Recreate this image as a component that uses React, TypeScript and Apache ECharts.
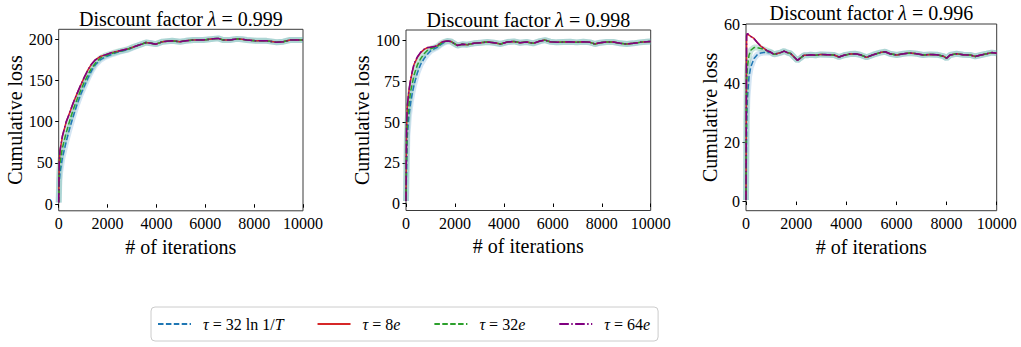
import React, { useEffect, useRef } from "react";
import * as echarts from "echarts";

// ---------- data ----------
const SERIES_NAMES = ["τ=32ln1/T", "τ=8e", "τ=32e", "τ=64e"];

// Panel 1 (λ = 0.999)
const P1_TITLE = "0.999";
const P1_Y_TICKS = [0, 50, 100, 150, 200];
const P1_X_HEAD = [0, 25, 55, 150, 300, 450, 600, 750, 900, 1050, 1200, 1350, 1500, 1700, 1900, 2200, 2500, 2800, 3000];
const P1_BLUE_HEAD = [2, 28, 38, 56, 75, 92, 107, 121, 133, 143, 153, 162, 169, 175, 178.5, 182, 185, 187, 189.5];
const P1_RED_HEAD = [2, 52, 65, 82, 99, 111, 123, 134, 144, 154, 163, 170, 175, 179, 181, 184, 186, 188, 190];
const P1_GREEN_HEAD = [2, 40, 50, 68, 86, 101, 115, 127, 138, 148, 157, 165, 171, 177, 180, 183, 185.5, 187.5, 190];
const P1_PURPLE_HEAD = [2, 53, 65.5, 82.5, 99.5, 111, 123.5, 134, 144.5, 154, 163, 170, 175, 179, 181, 184, 186, 188, 190];
const P1_X_TAIL = [3200, 3400, 3575, 3780, 3980, 4250, 4650, 4965, 5200, 5510, 5920, 6330, 6530, 6740, 7010, 7290, 7490, 7700, 8100, 8510, 8920, 9190, 9470, 9740, 10000];
const P1_TAIL = [192, 194, 196, 195, 194, 197, 198, 197, 198, 199, 199, 200.4, 201, 199, 199, 200.4, 200, 199, 198, 198, 196.3, 197, 199, 199, 199];

// Panel 2 (λ = 0.998)
const P2_TITLE = "0.998";
const P2_Y_TICKS = [0, 25, 50, 75, 100];
const P2_X_HEAD = [0, 25, 55, 120, 190, 260, 330, 460, 600, 740, 870, 1000, 1150, 1280, 1420, 1550];
const P2_BLUE_HEAD = [1.5, 22, 41.6, 54, 62, 68, 73, 80, 85.5, 89, 91.6, 93.7, 95, 96, 97.6, 98.8];
const P2_RED_HEAD = [1.5, 47, 60, 69, 76, 81, 85.5, 89.6, 92.7, 94.7, 95.7, 96, 96.3, 97, 98.8, 99.6];
const P2_GREEN_HEAD = [1.5, 35, 50, 61, 69, 74, 79, 85, 89, 92, 94, 95, 95.8, 96.5, 98.2, 99.3];
const P2_PURPLE_HEAD = [1.5, 48, 60.5, 69.5, 76.5, 81.5, 86, 90, 93, 94.8, 95.8, 96, 96.4, 97, 98.8, 99.6];
const P2_X_TAIL = [1690, 1830, 1960, 2100, 2300, 2500, 2780, 3050, 3320, 3600, 3870, 4140, 4410, 4660, 4930, 5200, 5480, 5680, 5890, 6160, 6430, 6700, 6980, 7250, 7520, 7720, 7930, 8200, 8470, 8750, 9020, 9290, 9560, 9840, 10000];
const P2_TAIL = [99.8, 99.6, 98.4, 97.1, 97.8, 97.6, 98.4, 98.8, 99.2, 98.8, 98, 99.2, 99.6, 98.8, 99.2, 98.4, 99.8, 100.4, 99.4, 99, 99.2, 99.4, 99, 99.4, 99, 98, 98.8, 99.2, 99.2, 98.4, 98, 98.4, 99, 99.4, 99.6];

// Panel 3 (λ = 0.996)
const P3_TITLE = "0.996";
const P3_Y_TICKS = [0, 20, 40, 60];
const P3_X_HEAD = [0, 25, 55, 120, 190, 320, 450, 590, 720, 850, 980];
const P3_BLUE_HEAD = [0.5, 27, 35, 42.3, 45.6, 48.5, 49.8, 50.4, 50.5, 50.5, 50.6];
const P3_RED_HEAD = [0.5, 56, 57, 56.4, 56, 55.3, 53.9, 52.7, 51.9, 51.1, 50.7];
const P3_GREEN_HEAD = [0.5, 40, 45.6, 49.6, 51.3, 52.2, 52.2, 51.9, 51.6, 51.1, 50.7];
const P3_PURPLE_HEAD = [0.5, 56.3, 57, 56.5, 56, 55.2, 53.9, 52.7, 51.9, 51.1, 50.7];
const P3_X_TAIL = [1120, 1250, 1380, 1520, 1650, 1780, 1920, 2050, 2180, 2310, 2450, 2580, 2780, 2980, 3250, 3510, 3710, 3910, 4150, 4350, 4550, 4810, 5080, 5350, 5550, 5740, 6010, 6280, 6540, 6810, 7070, 7340, 7610, 7870, 8000, 8140, 8400, 8670, 8940, 9140, 9330, 9600, 9800, 10000];
const P3_TAIL = [49.9, 50.2, 50.5, 51, 50.5, 50.2, 49, 47.9, 48.7, 49.6, 49.6, 49.8, 49.6, 49.9, 49.8, 49.7, 49, 49.6, 50, 50.1, 49.8, 48.9, 49.8, 50.5, 50.8, 50.1, 49.7, 50.1, 50.4, 50.1, 49.7, 49.9, 49.8, 49.3, 48.6, 49.7, 50.1, 49.8, 49.7, 49.2, 49.6, 50.1, 50.5, 50.3];

// ---------- layout / style ----------
const FONT = "Liberation Serif";
const COLORS = ["#1f77b4", "#d62728", "#2ca02c", "#800080"];
const BAND_COLORS = ["#6fa9d6", "#d62728", "#4fb08c", "#800080"];
const DASHES: any[] = [[5.5, 2.4], "solid", [5.5, 2.4], [9.6, 2.4, 1.5, 2.4]];

const PANELS = [
  {
    title: P1_TITLE, yTicks: P1_Y_TICKS, ymin: -8, ymax: 212,
    grid: { left: 58.7, top: 29.3, width: 244.3, height: 181.5 }, nameGap: 33, titleY: 19,
    xHead: P1_X_HEAD, heads: [P1_BLUE_HEAD, P1_RED_HEAD, P1_GREEN_HEAD, P1_PURPLE_HEAD], xTail: P1_X_TAIL, tail: P1_TAIL,
  },
  {
    title: P2_TITLE, yTicks: P2_Y_TICKS, ymin: -4.3, ymax: 106.6,
    grid: { left: 406, top: 30, width: 244.7, height: 180.5 }, nameGap: 31, titleY: 19.5,
    xHead: P2_X_HEAD, heads: [P2_BLUE_HEAD, P2_RED_HEAD, P2_GREEN_HEAD, P2_PURPLE_HEAD], xTail: P2_X_TAIL, tail: P2_TAIL,
  },
  {
    title: P3_TITLE, yTicks: P3_Y_TICKS, ymin: -3.1, ymax: 60.2,
    grid: { left: 746, top: 24, width: 250.7, height: 186.7 }, nameGap: 25, titleY: 13,
    xHead: P3_X_HEAD, heads: [P3_BLUE_HEAD, P3_RED_HEAD, P3_GREEN_HEAD, P3_PURPLE_HEAD], xTail: P3_X_TAIL, tail: P3_TAIL,
  },
];

function pairs(xs: number[], ys: number[]) {
  return xs.map((x, i) => [x, ys[i]]);
}

function buildOption() {
  const grids: any[] = [];
  const xAxes: any[] = [];
  const yAxes: any[] = [];
  const series: any[] = [];
  const graphics: any[] = [];

  PANELS.forEach((p, pi) => {
    grids.push({
      left: p.grid.left, top: p.grid.top, width: p.grid.width, height: p.grid.height,
      show: true, borderColor: "#3a3a3a", borderWidth: 1,
    });
    xAxes.push({
      type: "value", gridIndex: pi, min: 0, max: 10000, interval: 2000,
      name: "# of iterations", nameLocation: "middle", nameGap: 22,
      nameTextStyle: { fontFamily: FONT, fontSize: 20, color: "#000" },
      axisLine: { show: false },
      axisTick: { show: true, length: 3.5, lineStyle: { color: "#000", width: 1 } },
      axisLabel: {
        fontFamily: FONT, fontSize: 16, color: "#000", margin: 5,
        showMinLabel: true, showMaxLabel: true,
        formatter: (v: number) => String(v),
      },
      splitLine: { show: false },
    });
    yAxes.push({
      type: "value", gridIndex: pi, min: p.ymin, max: p.ymax,
      name: "Cumulative loss", nameLocation: "middle", nameGap: p.nameGap,
      nameTextStyle: { fontFamily: FONT, fontSize: 20, color: "#000" },
      axisLine: { show: false },
      axisTick: { show: true, length: 3.5, lineStyle: { color: "#000", width: 1 }, customValues: p.yTicks },
      axisLabel: {
        fontFamily: FONT, fontSize: 16, color: "#000", margin: 6, customValues: p.yTicks,
        formatter: (v: number) => String(v),
      },
      splitLine: { show: false },
    });

    const xs = [...p.xHead, ...p.xTail];
    // shaded bands (under lines)
    [0, 2].forEach((si) => {
      series.push({
        type: "line", xAxisIndex: pi, yAxisIndex: pi, symbol: "none", silent: true,
        data: pairs(xs, [...p.heads[si], ...p.tail]),
        lineStyle: { color: BAND_COLORS[si], width: 6, opacity: 0.3 },
        z: 1,
      });
    });
    SERIES_NAMES.forEach((name, si) => {
      series.push({
        name, type: "line", xAxisIndex: pi, yAxisIndex: pi, symbol: "none", silent: true,
        data: pairs(xs, [...p.heads[si], ...p.tail]),
        lineStyle: { color: COLORS[si], width: 1.5, type: DASHES[si] },
        itemStyle: { color: COLORS[si] },
        z: 2 + si,
      });
    });

    graphics.push({
      type: "text",
      x: p.grid.left + p.grid.width / 2,
      y: p.titleY,
      style: {
        text: "Discount factor {i|λ} = " + p.title,
        rich: { i: { fontStyle: "italic", fontFamily: FONT, fontSize: 20 } },
        fontFamily: FONT, fontSize: 20, fill: "#000", align: "center", verticalAlign: "middle",
      },
    });
  });

  const legendText: Record<string, string> = {
    "τ=32ln1/T": "{t|τ}{n| = 32 ln 1/}{i|T}",
    "τ=8e": "{t|τ}{n| = 8}{i|e}",
    "τ=32e": "{t|τ}{n| = 32}{i|e}",
    "τ=64e": "{t|τ}{n| = 64}{i|e}",
  };

  return {
    animation: false,
    grid: grids,
    xAxis: xAxes,
    yAxis: yAxes,
    series,
    graphic: graphics,
    legend: {
      data: SERIES_NAMES,
      left: 151, top: 307,
      itemWidth: 33, itemHeight: 14, itemGap: 33,
      padding: [9, 8, 9, 6],
      borderColor: "#cccccc", borderWidth: 1, borderRadius: 4,
      selectedMode: false,
      itemStyle: { opacity: 0 },
      formatter: (name: string) => legendText[name] || name,
      textStyle: {
        fontFamily: FONT, fontSize: 16, color: "#000",
        rich: {
          t: { fontStyle: "italic", fontFamily: FONT, fontSize: 16, padding: [0, 0, 0, 7] },
          i: { fontStyle: "italic", fontFamily: FONT, fontSize: 16 },
          n: { fontFamily: FONT, fontSize: 16 },
        },
      },
    },
  };
}

export default function App() {
  const ref = useRef<HTMLDivElement>(null);
  useEffect(() => {
    if (!ref.current) return;
    const chart = echarts.init(ref.current, undefined, { renderer: "svg" });
    chart.setOption(buildOption() as any);
    return () => chart.dispose();
  }, []);
  return <div ref={ref} style={{ position: "absolute", left: 0, top: 0, width: 1021, height: 347 }} />;
}
